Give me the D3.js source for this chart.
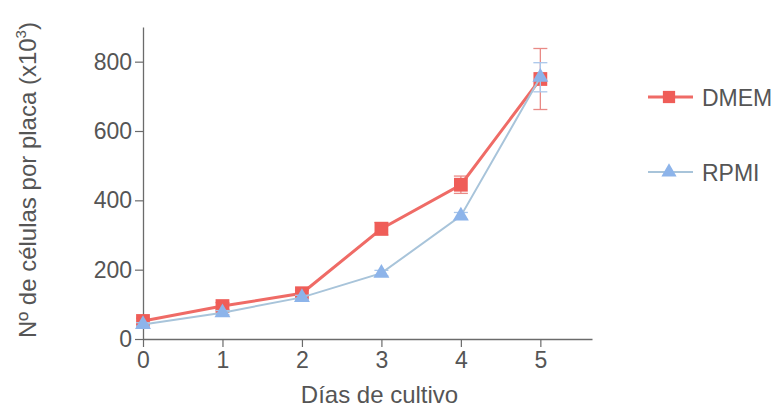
<!DOCTYPE html>
<html>
<head>
<meta charset="utf-8">
<script src="https://cdn.jsdelivr.net/npm/d3@7"></script>
<style>
  html, body { margin: 0; padding: 0; background: #fff; }
  svg { display: block; font-family: "Liberation Sans", Arial, sans-serif; }
</style>
</head>
<body>
<svg id="chart" width="783" height="409"></svg>
<script>
// Days of culture and cell counts per plate (x10^3)
const days = [0, 1, 2, 3, 4, 5];
const dmem = [52, 95, 132, 318, 445, 750];
const dmemErr = [8, 10, 8, 18, 25, 88];
const rpmi = [42, 76, 120, 190, 355, 755];
const rpmiErr = [5, 6, 6, 8, 10, 42];
const yTicks = [0, 200, 400, 600, 800];
const seriesNames = ["DMEM", "RPMI"];

const svg = d3.select("#chart");
const margin = { left: 143, top: 27, right: 191, bottom: 70 };
const W = 783, H = 409;

const x = d3.scaleLinear().domain([0, 5.65]).range([margin.left, W - margin.right]);
const y = d3.scaleLinear().domain([0, 900]).range([H - margin.bottom, margin.top]);

const axisColor = "#6b6b6b";
const textColor = "#555";

// Axes
const gx = svg.append("g")
  .attr("transform", `translate(0,${y(0)})`)
  .call(d3.axisBottom(x).tickValues(days).tickFormat(d3.format("d")).tickSize(8).tickPadding(5).tickSizeOuter(0));
const gy = svg.append("g")
  .attr("transform", `translate(${x(0)},0)`)
  .call(d3.axisLeft(y).tickValues(yTicks).tickSize(8).tickPadding(3).tickSizeOuter(0));

[gx, gy].forEach(g => {
  g.select(".domain").attr("stroke", axisColor).attr("stroke-width", 1.3);
  g.selectAll(".tick line").attr("stroke", axisColor).attr("stroke-width", 1.2);
  g.selectAll(".tick text").attr("fill", textColor).attr("font-size", 23)
    .attr("font-family", "Liberation Sans, Arial, sans-serif");
});

// Axis titles
svg.append("text")
  .attr("x", (x(0) + x(5.65)) / 2 + 12)
  .attr("y", 403)
  .attr("text-anchor", "middle")
  .attr("fill", textColor)
  .attr("font-size", 24)
  .text("Días de cultivo");

const yt = svg.append("text")
  .attr("transform", "translate(36,180) rotate(-90)")
  .attr("text-anchor", "middle")
  .attr("fill", textColor)
  .attr("font-size", 24);
yt.append("tspan").text("Nº de células por placa (x10");
yt.append("tspan").attr("font-size", 15).attr("dy", -10).text("3");
yt.append("tspan").attr("dy", 10).text(")");

const styles = {
  DMEM: { line: "#ef6b66", mark: "#ef5d58", err: "#e98a86", width: 3 },
  RPMI: { line: "#a8c4da", mark: "#8db4ea", err: "#a9c6ea", width: 2 }
};

function drawSeries(name, vals, errs, shape) {
  const st = styles[name];
  const pts = days.map((d, i) => ({ d, v: vals[i], e: errs[i] }));
  const g = svg.append("g");
  // error bars
  const eb = g.selectAll("g.err").data(pts).enter().append("g")
    .attr("stroke", st.err).attr("stroke-width", 1.3);
  eb.append("line")
    .attr("x1", p => x(p.d)).attr("x2", p => x(p.d))
    .attr("y1", p => y(p.v + p.e)).attr("y2", p => y(p.v - p.e));
  eb.append("line")
    .attr("x1", p => x(p.d) - 7).attr("x2", p => x(p.d) + 7)
    .attr("y1", p => y(p.v + p.e)).attr("y2", p => y(p.v + p.e));
  eb.append("line")
    .attr("x1", p => x(p.d) - 7).attr("x2", p => x(p.d) + 7)
    .attr("y1", p => y(p.v - p.e)).attr("y2", p => y(p.v - p.e));
  // line
  g.append("path")
    .datum(pts)
    .attr("fill", "none")
    .attr("stroke", st.line)
    .attr("stroke-width", st.width)
    .attr("d", d3.line().x(p => x(p.d)).y(p => y(p.v)));
  // markers
  const sym = d3.symbol().type(shape).size(shape === d3.symbolSquare ? 190 : 110);
  g.selectAll("path.mk").data(pts).enter().append("path")
    .attr("class", "mk")
    .attr("transform", p => `translate(${x(p.d)},${y(p.v)})`)
    .attr("d", sym)
    .attr("fill", st.mark);
}

drawSeries("DMEM", dmem, dmemErr, d3.symbolSquare);
drawSeries("RPMI", rpmi, rpmiErr, d3.symbolTriangle);

// Legend
const legend = svg.append("g");
const legendY = [97, 172];
seriesNames.forEach((name, i) => {
  const st = styles[name];
  const ly = legendY[i];
  legend.append("line")
    .attr("x1", 648).attr("x2", 693).attr("y1", ly).attr("y2", ly)
    .attr("stroke", st.line).attr("stroke-width", st.width);
  legend.append("path")
    .attr("transform", `translate(669,${ly})`)
    .attr("d", d3.symbol().type(i === 0 ? d3.symbolSquare : d3.symbolTriangle).size(i === 0 ? 150 : 100))
    .attr("fill", st.mark);
  legend.append("text")
    .attr("x", 702).attr("y", ly + 8.5)
    .attr("fill", textColor)
    .attr("font-size", 23)
    .text(name);
});
</script>
</body>
</html>
